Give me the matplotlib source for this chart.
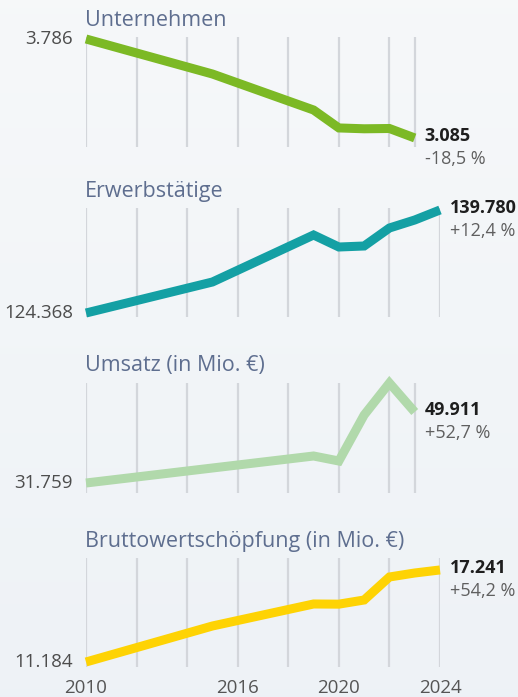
import matplotlib.pyplot as plt
import numpy as np

# data
titles = ["Unternehmen", "Erwerbstätige", "Umsatz (in Mio. €)", "Bruttowertschöpfung (in Mio. €)"]

years_unternehmen = [2010, 2015, 2019, 2020, 2021, 2022, 2023]
unternehmen = [3786, 3538, 3283, 3156, 3150, 3152, 3085]

years_erwerb = [2010, 2015, 2019, 2020, 2021, 2022, 2023, 2024]
erwerb = [124368, 129006, 136037, 134242, 134391, 137084, 138280, 139780]

years_umsatz = [2010, 2019, 2020, 2021, 2022, 2023]
umsatz = [31759, 38663, 37384, 49146, 57329, 49911]

years_bws = [2010, 2015, 2019, 2020, 2021, 2022, 2023, 2024]
bws = [11184, 13553, 15001, 14990, 15264, 16777, 17040, 17241]

changes = ["-18,5 %", "+12,4 %", "+52,7 %", "+54,2 %"]
tick_years = [2010, 2016, 2020, 2024]

# style
colors = ["#7cb925", "#14a0a4", "#b1d9ab", "#fed304"]
title_color = "#5e6e8f"
grid_color = "#d3d6db"
W, H = 518, 697
plt.rcParams["font.family"] = ["Open Sans", "DejaVu Sans"]

# pixel boxes of the panels (top, bottom) and y limits
panel_px = [(37, 147), (208, 317), (383, 493), (558, 667)]
ylims = [(3021, 3800), (123770, 140076), (29202, 57329), (10855, 18027)]
x_left, x_right = 86, 440

series = [
    (years_unternehmen, unternehmen),
    (years_erwerb, erwerb),
    (years_umsatz, umsatz),
    (years_bws, bws),
]


def fmt(v):
    return f"{v:,}".replace(",", ".")


fig = plt.figure(figsize=(W / 100, H / 100), dpi=100)

# soft background gradient
bg = fig.add_axes([0, 0, 1, 1], zorder=-10)
grad = np.linspace(0, 1, 256).reshape(-1, 1)
top = np.array([0.965, 0.973, 0.980])
bot = np.array([0.933, 0.949, 0.965])
img = top + grad[..., None] * (bot - top)
bg.imshow(img, aspect="auto", extent=[0, 1, 0, 1])
bg.axis("off")

for i, ((xs, ys), (pt, pb)) in enumerate(zip(series, panel_px)):
    ax = fig.add_axes([x_left / W, 1 - pb / H, (x_right - x_left) / W, (pb - pt) / H])
    ax.set_xlim(2010, 2024)
    ax.set_ylim(*ylims[i])
    ax.axis("off")

    end = xs[-1]
    grid_years = list(range(2010, end + 1, 2))
    if end not in grid_years:
        grid_years.append(end)
    ax.vlines(grid_years, 0, 1, transform=ax.get_xaxis_transform(),
              color=grid_color, lw=1.6, zorder=1)

    ax.plot(xs, ys, color=colors[i], lw=6.5, solid_capstyle="butt",
            solid_joinstyle="miter", clip_on=False, zorder=3)

    ax.annotate(titles[i], xy=(2010, 1), xycoords=("data", "axes fraction"),
                xytext=(-1, 17), textcoords="offset pixels",
                ha="left", va="center", fontsize=15.5, color=title_color)

    ax.annotate(fmt(ys[0]), xy=(xs[0], ys[0]), xytext=(-13, 0),
                textcoords="offset pixels", ha="right", va="center",
                fontsize=13.5, color="#4d4d4d")

    ax.annotate(fmt(ys[-1]), xy=(xs[-1], ys[-1]), xytext=(10, 2),
                textcoords="offset pixels", ha="left", va="center",
                fontsize=13, fontweight="bold", color="#1e1e1e")
    ax.annotate(changes[i], xy=(xs[-1], ys[-1]), xytext=(10, -21),
                textcoords="offset pixels", ha="left", va="center",
                fontsize=13, color="#5f5f5f")

    if i == len(series) - 1:
        for yr in tick_years:
            ax.annotate(str(yr), xy=(yr, 0), xycoords=("data", "axes fraction"),
                        xytext=(0, -21), textcoords="offset pixels",
                        ha="center", va="center", fontsize=13.5, color="#555555")

plt.savefig("out.png", dpi=100)
plt.close()
